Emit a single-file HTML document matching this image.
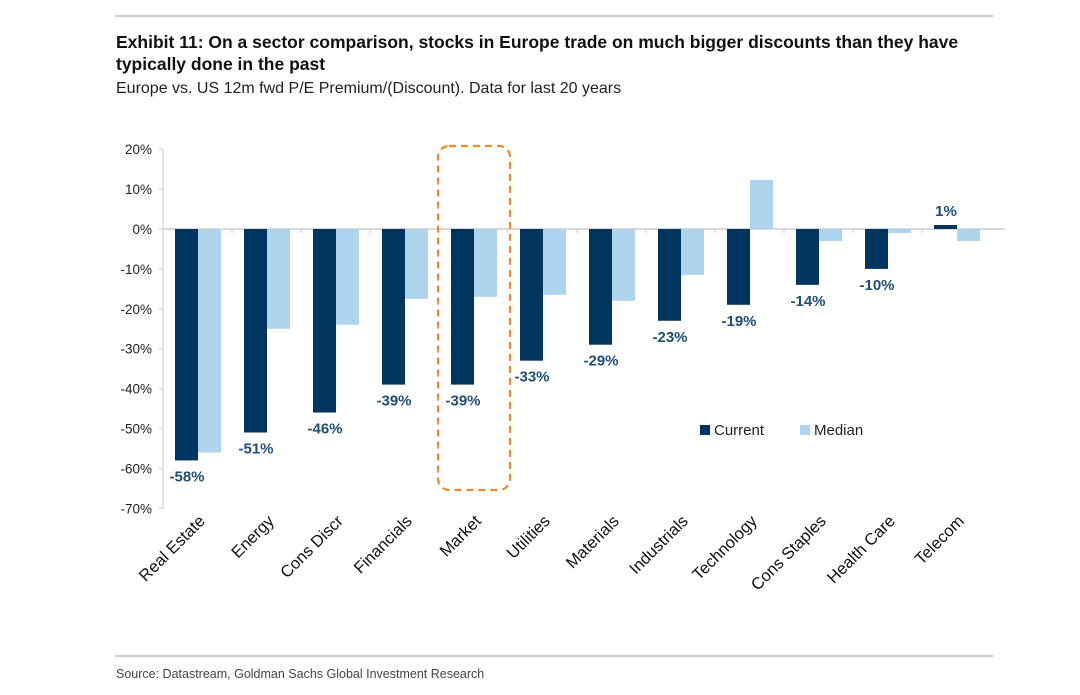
<!DOCTYPE html>
<html><head><meta charset="utf-8"><style>
body{margin:0;background:#fff;font-family:"Liberation Sans",Arial,sans-serif}
svg text{font-family:"Liberation Sans",Arial,sans-serif}
</style></head><body>
<svg width="1080" height="690" viewBox="0 0 1080 690">
<line x1="115" y1="16" x2="993" y2="16" stroke="#9a9a9a" stroke-width="1"/>
<text x="116" y="48" font-size="17.5" font-weight="bold" fill="#111">Exhibit 11: On a sector comparison, stocks in Europe trade on much bigger discounts than they have</text>
<text x="116" y="70" font-size="17.5" font-weight="bold" fill="#111">typically done in the past</text>
<text x="116" y="93" font-size="16" fill="#222">Europe vs. US 12m fwd P/E Premium/(Discount). Data for last 20 years</text>
<g id="grid"></g>
<g id="bars"></g>
<g id="labels"></g>
<rect x="438" y="146" width="72" height="344" rx="11" fill="none" stroke="#f08a2c" stroke-width="2.2" stroke-dasharray="7,5"/>
<rect x="700" y="425" width="10" height="10" fill="#003560"/>
<text x="714" y="435" font-size="15" fill="#222">Current</text>
<rect x="800" y="425" width="10" height="10" fill="#aed4ee"/>
<text x="814" y="435" font-size="15" fill="#222">Median</text>
<line x1="115" y1="656" x2="993" y2="656" stroke="#9a9a9a" stroke-width="1"/>
<text x="116" y="678" font-size="12.5" fill="#444">Source: Datastream, Goldman Sachs Global Investment Research</text>
</svg>
<script>
const categories=["Real Estate","Energy","Cons Discr","Financials","Market","Utilities","Materials","Industrials","Technology","Cons Staples","Health Care","Telecom"];
const currentValues=[-58,-51,-46,-39,-39,-33,-29,-23,-19,-14,-10,1];
const medianValues=[-56,-25,-24,-17.5,-17,-16.5,-18,-11.5,12.3,-3,-1,-3];
const tickValues=[20,10,0,-10,-20,-30,-40,-50,-60,-70];
const NS="http://www.w3.org/2000/svg";
const y0=229, pxPer=3.99, axX=163, band=69;
const yS=v=>y0-v*pxPer;
const xS=i=>axX+i*band;
function mk(tag,attrs,parent){const e=document.createElementNS(NS,tag);for(const k in attrs)e.setAttribute(k,attrs[k]);parent.appendChild(e);return e;}
const grid=document.getElementById('grid'),bars=document.getElementById('bars'),labels=document.getElementById('labels');
let ax=mk('line',{x1:axX,y1:yS(20),x2:axX,y2:yS(-70),stroke:'#d9d9d9','stroke-width':1.5},grid);


tickValues.forEach(t=>{
  const tk=mk('line',{x1:axX-4,y1:yS(t),x2:axX,y2:yS(t),stroke:'#d9d9d9','stroke-width':1.5},grid);
  
  
  const tl=mk('text',{x:axX-11,y:yS(t)+5,'font-size':13.5,'text-anchor':'end',fill:'#222'},grid);
  tl.textContent=t+'%';
  
  
});
let za=mk('line',{x1:axX,y1:y0,x2:xS(categories.length)+14,y2:y0,stroke:'#d9d9d9','stroke-width':2},grid);


categories.forEach((c,i)=>{
  const x=xS(i);
  if(i>0){const t=mk('line',{x1:x,y1:y0,x2:x,y2:y0+4,stroke:'#d9d9d9','stroke-width':1.5},grid);
  
  }
  const cv=currentValues[i],mv=medianValues[i];
  const b1=mk('rect',{x:x+12,y:Math.min(yS(cv),y0),width:23,height:Math.abs(yS(cv)-y0),fill:'#003560'},bars);
  
  
  const b2=mk('rect',{x:x+35,y:Math.min(yS(mv),y0),width:23,height:Math.abs(yS(mv)-y0),fill:'#aed4ee'},bars);
  
  
  const vy=cv<0?yS(cv)+21:yS(cv)-9;
  const vl=mk('text',{x:x+24,y:vy,'font-size':15,'font-weight':'bold','text-anchor':'middle',fill:'#1f4e79'},labels);
  vl.textContent=Math.round(cv)+'%';
  
  
  const cx=x+43, cy=522;
  const cl=mk('text',{x:cx,y:cy,'font-size':16.5,'text-anchor':'end',fill:'#111',transform:`rotate(-45 ${cx} ${cy})`},labels);
  cl.textContent=c;
  
  
});
</script>
</body></html>
